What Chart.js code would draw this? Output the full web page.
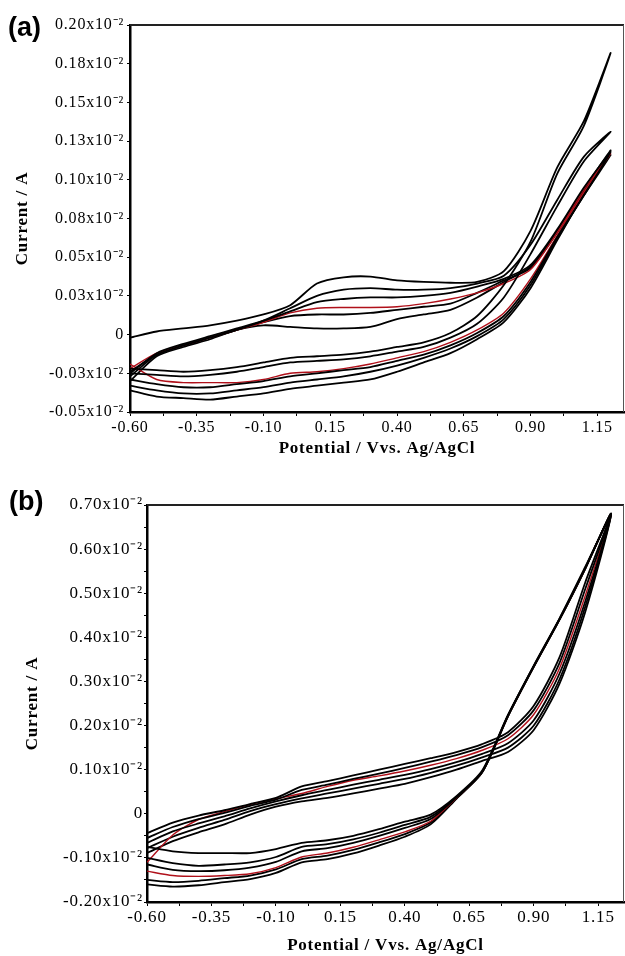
<!DOCTYPE html>
<html><head><meta charset="utf-8">
<script src="https://cdn.jsdelivr.net/npm/chart.js@4.4.1/dist/chart.umd.min.js"></script>
<style>
html,body{margin:0;padding:0;background:#fff;}
#wrap{position:relative;width:625px;height:956px;overflow:hidden;background:#fff;}
canvas{position:absolute;left:0;}
.lbl{position:absolute;font-family:"Liberation Sans",Arial,sans-serif;font-weight:bold;font-size:27px;line-height:27px;color:#000;}
</style></head><body>
<div id="wrap">
<canvas id="ca" width="625" height="465" style="top:0"></canvas>
<canvas id="cb" width="625" height="491" style="top:465px"></canvas>
<div class="lbl" style="left:8px;top:14px">(a)</div>
<div class="lbl" style="left:9px;top:488px">(b)</div>
</div>
<script>
// ---- shared potential grid (V vs Ag/AgCl) ----
const potential = [-0.60,-0.50,-0.40,-0.30,-0.20,-0.10,0.00,0.10,0.20,0.30,0.40,0.50,0.60,0.70,0.80,0.90,1.00,1.10,1.20];

// ---- panel (a): current in units of 1e-2 A ----
const a1Fwd = [-0.002,0.002,0.004,0.006,0.009,0.013,0.019,0.033,0.037,0.0375,0.035,0.034,0.0335,0.034,0.041,0.067,0.108,0.138,0.182];
const a1Rev = [-0.022,-0.023,-0.024,-0.023,-0.021,-0.018,-0.015,-0.014,-0.013,-0.011,-0.008,-0.005,0.001,0.012,0.032,0.060,0.104,0.135,0.182];
const a2Fwd = [-0.024,-0.013,-0.007,-0.002,0.003,0.009,0.017,0.025,0.029,0.030,0.029,0.029,0.030,0.033,0.038,0.058,0.087,0.115,0.131];
const a2Rev = [-0.025,-0.026,-0.027,-0.026,-0.024,-0.021,-0.018,-0.017,-0.016,-0.014,-0.011,-0.008,-0.002,0.007,0.024,0.052,0.083,0.112,0.131];
const a3Fwd = [-0.025,-0.012,-0.006,-0.001,0.004,0.009,0.015,0.021,0.023,0.024,0.024,0.025,0.027,0.031,0.036,0.045,0.068,0.095,0.118];
const a3Rev = [-0.029,-0.032,-0.034,-0.034,-0.032,-0.030,-0.027,-0.025,-0.023,-0.021,-0.017,-0.013,-0.007,0.001,0.012,0.034,0.063,0.090,0.118];
const aRedFwd = [-0.022,-0.012,-0.007,-0.002,0.003,0.008,0.014,0.017,0.0175,0.0175,0.018,0.020,0.023,0.027,0.033,0.042,0.066,0.094,0.117];
const aRedRev = [-0.019,-0.029,-0.031,-0.031,-0.031,-0.029,-0.025,-0.024,-0.022,-0.019,-0.015,-0.011,-0.005,0.003,0.014,0.036,0.064,0.092,0.117];
const a5Fwd = [-0.027,-0.013,-0.007,-0.002,0.003,0.008,0.012,0.013,0.013,0.014,0.016,0.018,0.020,0.027,0.035,0.043,0.066,0.093,0.116];
const a5Rev = [-0.033,-0.036,-0.038,-0.038,-0.036,-0.034,-0.031,-0.029,-0.027,-0.024,-0.020,-0.015,-0.009,-0.001,0.010,0.032,0.062,0.090,0.116];
const a6Fwd = [-0.030,-0.014,-0.008,-0.003,0.003,0.006,0.005,0.004,0.004,0.005,0.010,0.013,0.016,0.024,0.034,0.044,0.067,0.094,0.119];
const a6Rev = [-0.036,-0.040,-0.041,-0.042,-0.040,-0.038,-0.035,-0.033,-0.031,-0.029,-0.024,-0.018,-0.012,-0.003,0.008,0.030,0.061,0.091,0.119];

// ---- panel (b): current in units of 1e-2 A ----
const b1Fwd = [-0.075,-0.085,-0.089,-0.089,-0.089,-0.080,-0.066,-0.060,-0.050,-0.035,-0.018,-0.002,0.040,0.098,0.224,0.336,0.443,0.560,0.680];
const b1Rev = [-0.044,-0.020,-0.004,0.008,0.022,0.036,0.062,0.074,0.087,0.100,0.113,0.126,0.140,0.158,0.185,0.245,0.355,0.525,0.680];
const b2Fwd = [-0.100,-0.112,-0.118,-0.115,-0.110,-0.098,-0.075,-0.069,-0.058,-0.043,-0.025,-0.007,0.038,0.096,0.223,0.335,0.442,0.558,0.680];
const b2Rev = [-0.055,-0.030,-0.012,0.002,0.018,0.032,0.054,0.066,0.079,0.091,0.104,0.118,0.133,0.151,0.178,0.235,0.342,0.510,0.680];
const b3Fwd = [-0.115,-0.127,-0.130,-0.128,-0.122,-0.109,-0.085,-0.078,-0.066,-0.050,-0.032,-0.012,0.037,0.095,0.222,0.334,0.441,0.557,0.680];
const b3Rev = [-0.066,-0.040,-0.022,-0.006,0.012,0.028,0.042,0.054,0.066,0.077,0.088,0.101,0.117,0.136,0.160,0.212,0.318,0.482,0.680];
const bRedFwd = [-0.130,-0.140,-0.142,-0.140,-0.136,-0.122,-0.098,-0.089,-0.076,-0.059,-0.041,-0.017,0.036,0.095,0.222,0.334,0.441,0.557,0.680];
const bRedRev = [-0.110,-0.048,-0.013,0.005,0.021,0.034,0.046,0.062,0.076,0.086,0.097,0.110,0.125,0.144,0.170,0.225,0.330,0.495,0.680];
const b5Fwd = [-0.150,-0.155,-0.152,-0.146,-0.140,-0.126,-0.103,-0.095,-0.082,-0.065,-0.046,-0.020,0.035,0.094,0.221,0.333,0.440,0.556,0.680];
const b5Rev = [-0.078,-0.052,-0.032,-0.014,0.006,0.022,0.035,0.046,0.057,0.068,0.079,0.093,0.109,0.128,0.150,0.200,0.305,0.470,0.680];
const b6Fwd = [-0.160,-0.165,-0.162,-0.155,-0.148,-0.134,-0.110,-0.103,-0.090,-0.072,-0.052,-0.024,0.034,0.094,0.221,0.333,0.440,0.556,0.680];
const b6Rev = [-0.089,-0.062,-0.042,-0.024,-0.002,0.016,0.028,0.036,0.046,0.057,0.068,0.083,0.100,0.120,0.140,0.190,0.295,0.458,0.680];

// ---- ticks ----
const xMajorTicks = [-0.60,-0.35,-0.10,0.15,0.40,0.65,0.90,1.15];
const xMajorLabels = ['-0.60','-0.35','-0.10','0.15','0.40','0.65','0.90','1.15'];
const xMinorTicks = [-0.475,-0.225,0.025,0.275,0.525,0.775,1.025];
const yTicksA = [0.20,0.175,0.15,0.125,0.10,0.075,0.05,0.025,0,-0.025,-0.05];
const yLabelsA = ['0.20','0.18','0.15','0.13','0.10','0.08','0.05','0.03','0','-0.03','-0.05'];
const yTicksB = [0.70,0.60,0.50,0.40,0.30,0.20,0.10,0,-0.10,-0.20];
const yLabelsB = ['0.70','0.60','0.50','0.40','0.30','0.20','0.10','0','-0.10','-0.20'];
const yMinorB = [0.65,0.55,0.45,0.35,0.25,0.15,0.05,-0.05,-0.15];
const xTitle = 'Potential / Vvs. Ag/AgCl';
const yTitle = 'Current / A';
const expSuffix = 'x10\u207B\u00B2';

Chart.defaults.color = '#000';
Chart.defaults.font.family = '"Liberation Serif", "Times New Roman", serif';

function loop(fwd, rev){
  const pts = [];
  potential.forEach((p,i)=>pts.push({x:p, y:fwd[i]}));
  for(let i=potential.length-2;i>=0;i--) pts.push({x:potential[i], y:rev[i]});
  return pts;
}
function ds(fwd, rev, color){
  return {data: loop(fwd, rev), borderColor: color, backgroundColor: color, showLine:true, pointRadius:0, borderWidth: color==='#000'?1.8:1.4, fill:false};
}
function findLabel(v, vals, labels){
  const i = vals.findIndex(t=>Math.abs(t-v)<1e-6);
  return i<0 ? '' : labels[i];
}

const framePlugin = {
  id:'frame',
  beforeDraw(chart){ chart.ctx.letterSpacing = '0.8px'; },
  afterDatasetsDraw(chart){
    const {ctx, chartArea:a} = chart;
    ctx.save();
    ctx.strokeStyle = '#222'; ctx.lineWidth = 2;
    ctx.beginPath(); ctx.moveTo(a.left, a.top); ctx.lineTo(a.right, a.top); ctx.stroke();
    ctx.strokeStyle = '#555'; ctx.lineWidth = 1;
    ctx.beginPath(); ctx.moveTo(a.right-0.5, a.top); ctx.lineTo(a.right-0.5, a.bottom); ctx.stroke();
    ctx.restore();
  }
};

function makeChart(id, datasets, o){
  return new Chart(document.getElementById(id), {
    type:'scatter',
    data:{datasets},
    options:{
      responsive:false, animation:false, devicePixelRatio:1,
      layout:{padding:{left:0, top:o.padTop, right:1, bottom:0}},
      plugins:{legend:{display:false}, tooltip:{enabled:false}},
      elements:{line:{tension:0.25}},
      scales:{
        x:{type:'linear', position:'bottom', min:-0.6, max:1.25,
          afterBuildTicks(s){ s.ticks = xMajorTicks.concat(xMinorTicks).sort((p,q)=>p-q).map(v=>({value:v})); },
          afterFit(s){ s.height = o.xH; },
          ticks:{autoSkip:false, maxRotation:0, minRotation:0, padding:o.xPad, color:'#000', font:{size:o.tickSize},
            callback(v){ return findLabel(v, xMajorTicks, xMajorLabels); }},
          grid:{drawOnChartArea:false, drawTicks:true, tickLength:4, color:'#000', lineWidth:1},
          border:{display:true, color:'#000', width:2.5},
          title:{display:true, text:xTitle, color:'#000', font:{weight:'bold', size:o.titleSize}, padding:{top:0, bottom:o.xTitlePad}}
        },
        y:{type:'linear', position:'left', min:o.yMin, max:o.yMax,
          afterBuildTicks(s){ s.ticks = o.yTicks.concat(o.yMinor).sort((p,q)=>p-q).map(v=>({value:v})); },
          afterFit(s){ s.width = o.yW; },
          ticks:{autoSkip:false, padding:o.yPad, color:'#000', font:{size:o.tickSize},
            callback(v){ const l = findLabel(v, o.yTicks, o.yLabels); return (l===''||l==='0') ? l : l + expSuffix; }},
          grid:{drawOnChartArea:false, drawTicks:true, tickLength:3, color:'#000', lineWidth:1},
          border:{display:true, color:'#000', width:2.5},
          title:{display:true, text:yTitle, color:'#000', font:{weight:'bold', size:o.titleSize}, padding:{top:o.yTitlePad, bottom:0}}
        }
      }
    },
    plugins:[framePlugin]
  });
}

const red = '#b0101a', blk = '#000';
makeChart('ca', [
  ds(a1Fwd, a1Rev, blk), ds(a2Fwd, a2Rev, blk), ds(a3Fwd, a3Rev, blk),
  ds(aRedFwd, aRedRev, red), ds(a5Fwd, a5Rev, blk), ds(a6Fwd, a6Rev, blk)
], {padTop:25, xH:53, yW:130, yMin:-0.05, yMax:0.20, yTicks:yTicksA, yLabels:yLabelsA, yMinor:[],
    tickSize:16, titleSize:17, xPad:2, yPad:3, xTitlePad:6, yTitlePad:12});

makeChart('cb', [
  ds(b1Fwd, b1Rev, blk), ds(b2Fwd, b2Rev, blk), ds(b3Fwd, b3Rev, blk),
  ds(bRedFwd, bRedRev, red), ds(b5Fwd, b5Rev, blk), ds(b6Fwd, b6Rev, blk)
], {padTop:40, xH:54, yW:147, yMin:-0.20, yMax:0.70, yTicks:yTicksB, yLabels:yLabelsB, yMinor:yMinorB,
    tickSize:17, titleSize:17, xPad:1, yPad:1, xTitlePad:0, yTitlePad:22});
</script>
</body></html>
